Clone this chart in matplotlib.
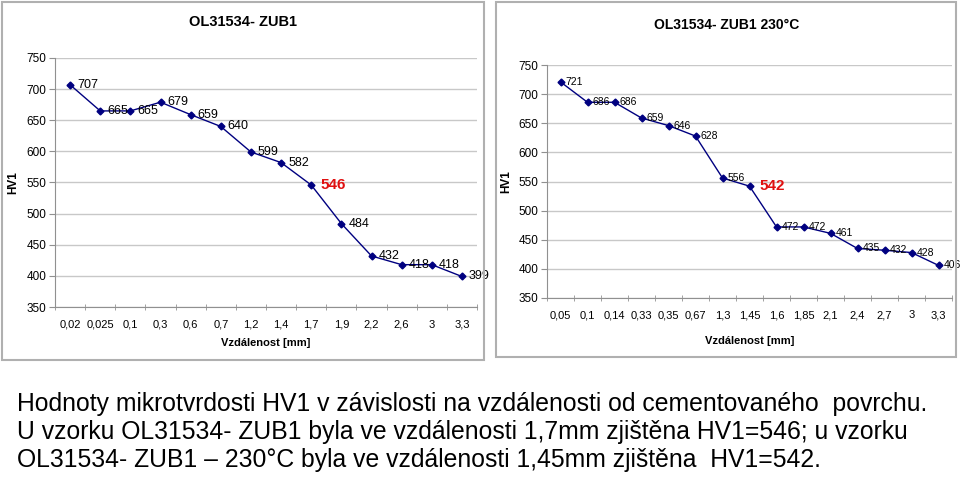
import matplotlib.pyplot as plt
from matplotlib.patches import Rectangle

plt.rcParams["font.family"] = ["Liberation Sans", "DejaVu Sans"]

# left chart
left_title = "OL31534- ZUB1"
left_cats = ["0,02", "0,025", "0,1", "0,3", "0,6", "0,7", "1,2", "1,4",
             "1,7", "1,9", "2,2", "2,6", "3", "3,3"]
left_hv = [707, 665, 665, 679, 659, 640, 599, 582, 546, 484, 432, 418, 418, 399]
left_mark = 8  # index of highlighted point

# right chart
right_title = "OL31534- ZUB1 230°C"
right_cats = ["0,05", "0,1", "0,14", "0,33", "0,35", "0,67", "1,3", "1,45",
              "1,6", "1,85", "2,1", "2,4", "2,7", "3", "3,3"]
right_hv = [721, 686, 686, 659, 646, 628, 556, 542, 472, 472, 461, 435, 432, 428, 406]
right_mark = 7

caption = ("Hodnoty mikrotvrdosti HV1 v závislosti na vzdálenosti od cementovaného  povrchu.\n"
           "U vzorku OL31534- ZUB1 byla ve vzdálenosti 1,7mm zjištěna HV1=546; u vzorku\n"
           "OL31534- ZUB1 – 230°C byla ve vzdálenosti 1,45mm zjištěna  HV1=542.")

W, H = 960, 479
fig = plt.figure(figsize=(W / 100, H / 100), dpi=100)


def px(x0, y0, x1, y1):
    return [x0 / W, 1 - y1 / H, (x1 - x0) / W, (y1 - y0) / H]


# panel frames
for (x0, y0, x1, y1) in [(2, 2, 484, 360), (496, 2, 956, 357)]:
    fig.patches.append(Rectangle((x0 / W, 1 - y1 / H), (x1 - x0) / W, (y1 - y0) / H,
                                 transform=fig.transFigure, fill=False,
                                 edgecolor="#b0b0b0", linewidth=1.5))


def draw(ax, cats, vals, mark, lab_size, red_size, off):
    n = len(cats)
    xs = list(range(n))
    ax.plot(xs, vals, color="#000080", linewidth=1, marker="D", markersize=3.5,
            markerfacecolor="#000080", markeredgecolor="#000080", zorder=3)
    for i, v in enumerate(vals):
        if i == mark:
            ax.annotate(str(v), (i, v), xytext=(7, 0), textcoords="offset points",
                        va="center", ha="left", fontsize=red_size, fontweight="bold",
                        color="#e01010")
        else:
            ax.annotate(str(v), (i, v), xytext=(off, 0), textcoords="offset points",
                        va="center", ha="left", fontsize=lab_size, color="black")
    ax.set_xlim(-0.5, n - 0.5)
    ax.set_ylim(350, 750)
    ax.set_yticks(range(350, 751, 50))
    ax.set_xticks(xs)
    ax.set_xticklabels(cats)
    ax.set_xticks([i + 0.5 for i in range(-1, n)], minor=True)
    ax.tick_params(axis="x", which="major", length=0, labelsize=8, pad=9)
    ax.tick_params(axis="x", which="minor", length=4, direction="inout", color="#909090")
    ax.tick_params(axis="y", length=4, color="#909090", labelsize=8.5, pad=2)
    ax.grid(axis="y", color="#c8c8c8", linewidth=1)
    ax.set_axisbelow(True)
    for s in ["top", "right"]:
        ax.spines[s].set_visible(False)
    for s in ["left", "bottom"]:
        ax.spines[s].set_color("#909090")
    ax.set_xlabel("Vzdálenost [mm]", fontsize=8, fontweight="bold", labelpad=6)
    ax.set_ylabel("HV1", fontsize=8.5, fontweight="bold")


ax1 = fig.add_axes(px(55, 58, 477, 307))
draw(ax1, left_cats, left_hv, left_mark, 9, 11, 5)
ax1.yaxis.set_label_coords(-0.085, 0.5)

ax2 = fig.add_axes(px(547, 65, 952, 298))
draw(ax2, right_cats, right_hv, right_mark, 7.5, 11, 3.5)
ax2.yaxis.set_label_coords(-0.087, 0.5)
ax2.xaxis.set_label_coords(0.5, -0.165)

fig.text(243 / W, 1 - 22 / H, left_title, ha="center", va="center",
         fontsize=10.5, fontweight="bold")
fig.text(727 / W, 1 - 25 / H, right_title, ha="center", va="center",
         fontsize=10, fontweight="bold")

fig.text(17 / W, 1 - 392 / H, caption, ha="left", va="top", fontsize=17.8,
         linespacing=1.2)

fig.savefig("out.png", dpi=100)
